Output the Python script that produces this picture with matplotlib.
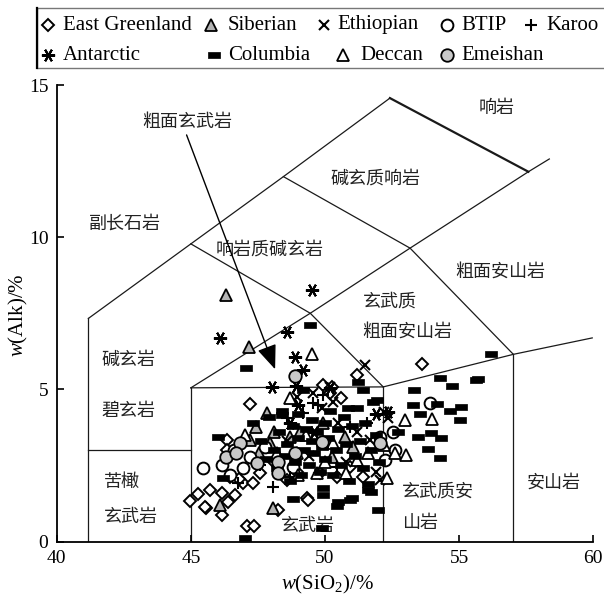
import matplotlib
matplotlib.use('Agg')
import matplotlib.pyplot as plt
from matplotlib.patches import Rectangle
import numpy as np

plt.rcParams['font.family'] = ['Liberation Serif', 'Noto Sans CJK SC']
plt.rcParams['mathtext.fontset'] = 'custom'
plt.rcParams['mathtext.rm'] = 'Liberation Serif'
plt.rcParams['mathtext.it'] = 'Liberation Serif:italic'

# ---- data (SiO2, Alk) ----
east_greenland = [(44.95, 1.33), (45.28, 1.55), (45.57, 1.09), (45.72, 1.69), (46.15, 1.58),
                  (46.15, 0.87), (46.40, 1.31), (46.65, 1.53), (46.96, 1.91), (47.33, 1.91),
                  (47.08, 0.52), (47.36, 0.52), (46.34, 3.34), (46.46, 2.13), (46.81, 2.04),
                  (48.26, 1.04), (49.32, 1.42), (48.95, 2.29), (48.57, 2.02), (51.18, 5.47),
                  (49.94, 5.14), (50.25, 5.09), (50.19, 4.87), (51.43, 2.13), (50.44, 2.13),
                  (49.82, 2.24), (50.93, 2.46), (47.58, 2.24), (46.34, 3.01), (53.62, 5.82),
                  (47.21, 4.52), (45.53, 1.14), (49.37, 1.36), (48.1, 2.6), (50.6, 4.7)]
siberian = [(46.31, 8.10), (47.18, 6.40), (47.85, 4.23), (47.43, 3.77), (48.10, 3.61),
            (46.09, 1.20), (48.05, 1.11), (47.55, 2.90), (47.95, 3.23), (49.07, 3.61),
            (49.94, 3.88), (50.75, 3.45), (51.06, 3.12), (47.20, 3.34), (48.70, 3.45),
            (50.25, 2.79)]
ethiopian = [(51.49, 5.80), (50.19, 5.09), (49.57, 4.87), (48.95, 4.76), (52.18, 4.27),
             (52.36, 4.05), (51.68, 3.34), (52.05, 2.02), (51.90, 2.30), (50.50, 3.90),
             (49.90, 4.40), (50.30, 4.60), (48.60, 3.30), (49.40, 2.80), (50.80, 2.60),
             (51.20, 3.60)]
btip = [(45.47, 2.41), (46.15, 2.52), (46.46, 2.19), (46.96, 2.41), (46.59, 3.01),
        (47.21, 2.79), (52.55, 3.61), (52.61, 3.01), (52.24, 2.68), (48.82, 2.46),
        (53.92, 4.55), (47.77, 3.12), (52.05, 3.45)]
karoo = [(48.08, 1.80), (48.57, 4.05), (49.57, 4.54), (49.94, 4.81), (49.19, 4.21),
         (49.75, 4.49), (46.77, 1.91), (47.58, 2.51), (48.70, 2.13), (50.44, 2.46),
         (50.93, 3.77), (51.55, 3.88)]
antarctic = [(46.09, 6.68), (48.57, 6.89), (48.88, 6.07), (48.01, 5.09), (49.19, 5.64),
             (49.50, 8.27), (48.92, 5.11), (52.36, 4.27), (50.19, 5.03), (49.00, 4.50),
             (48.70, 3.90), (51.90, 4.20), (49.60, 3.60)]
columbia = [(49.44, 7.10), (47.05, 5.69), (49.19, 4.98), (51.24, 5.25), (51.43, 4.98),
            (51.93, 4.65), (50.87, 4.38), (56.20, 6.16), (55.70, 5.34),
            (53.32, 4.98), (54.29, 5.37), (54.73, 5.11), (55.63, 5.31), (53.28, 4.49),
            (53.54, 4.19), (54.17, 4.52), (54.66, 4.29), (55.03, 3.99), (53.47, 3.43),
            (53.95, 3.57), (54.32, 3.40), (53.84, 3.04), (54.29, 2.74), (52.72, 3.60),
            (55.07, 4.42),
            (47.3, 3.9), (47.6, 3.3), (47.8, 2.7), (47.9, 4.1), (48.1, 3.0), (48.2, 2.4),
            (48.3, 3.6), (48.4, 4.3), (48.5, 2.8), (48.6, 3.2), (48.7, 2.0), (48.8, 3.8),
            (48.9, 2.6), (49.0, 3.4), (49.0, 4.2), (49.1, 2.2), (49.2, 3.0), (49.3, 3.7),
            (49.4, 2.5), (49.5, 3.3), (49.5, 4.0), (49.6, 2.9), (49.7, 3.6), (49.8, 2.3),
            (49.9, 3.1), (50.0, 3.9), (50.0, 2.7), (50.1, 3.4), (50.2, 4.3), (50.3, 2.2),
            (50.4, 3.0), (50.5, 3.7), (50.6, 2.5), (50.7, 4.1), (50.8, 3.2), (50.9, 2.0),
            (51.0, 3.8), (51.1, 2.8), (51.2, 4.4), (51.3, 3.3), (51.4, 2.4), (51.5, 3.9),
            (51.6, 1.9), (51.7, 3.0), (51.8, 4.6), (51.9, 3.5), (52.0, 2.6),
            (47.02, 0.10), (49.88, 0.43), (51.99, 1.04), (50.43, 1.17), (50.93, 1.36),
            (48.80, 1.41), (49.93, 1.53), (51.71, 1.64), (50.50, 1.31), (51.00, 1.42),
            (51.62, 1.69), (49.94, 1.75), (46.21, 2.08), (46.03, 3.45), (48.39, 4.16)]
deccan = [(48.70, 4.70), (52.98, 4.00), (52.18, 3.17), (52.61, 2.90), (52.30, 2.08),
          (50.80, 2.24), (49.69, 2.24), (48.95, 2.90), (48.20, 2.90), (51.18, 2.68),
          (50.31, 3.23), (49.50, 6.15), (54.00, 4.02), (53.00, 2.85), (47.00, 3.50),
          (49.30, 3.50), (50.00, 2.60), (51.60, 2.90), (49.00, 2.20)]
emeishan = [(48.88, 5.44), (46.83, 3.23), (46.31, 2.79), (47.45, 2.57), (48.26, 2.62),
            (48.26, 2.26), (49.88, 3.28), (52.05, 3.23), (46.68, 2.90), (48.88, 2.90)]

# TAS field boundaries as drawn in the figure
tas_lines = [
    [(41.18, 0), (41.18, 7.33)],
    [(41.18, 3.0), (45.0, 3.0)],
    [(45.0, 0), (45.0, 5.05)],
    [(52.17, 0), (52.17, 5.08)],
    [(57.02, 0), (57.02, 6.15)],
    [(45.0, 5.05), (52.17, 5.08)],
    [(41.18, 7.33), (45.0, 9.78), (48.45, 11.99), (52.42, 14.57)],
    [(45.0, 9.78), (49.45, 7.5), (52.17, 5.08)],
    [(45.0, 5.05), (49.45, 7.5), (53.17, 9.64), (57.58, 12.15), (58.36, 12.57)],
    [(48.45, 11.99), (53.17, 9.64), (57.02, 6.15)],
    [(52.17, 5.08), (57.02, 6.15), (59.96, 6.69)],
]
thick_line = [(52.42, 14.57), (57.58, 12.15)]

field_labels = [
    ('粗面玄武岩', 44.88, 13.80, 'center'),
    ('响岩', 56.40, 14.24, 'center'),
    ('碱玄质响岩', 51.89, 11.94, 'center'),
    ('副长石岩', 42.56, 10.43, 'center'),
    ('响岩质碱玄岩', 47.95, 9.58, 'center'),
    ('粗面安山岩', 56.55, 8.87, 'center'),
    ('玄武质', 51.43, 7.88, 'left'),
    ('粗面安山岩', 51.40, 6.90, 'left'),
    ('碱玄岩', 41.65, 5.96, 'left'),
    ('碧玄岩', 41.65, 4.29, 'left'),
    ('苦橄', 41.74, 1.96, 'left'),
    ('玄武岩', 41.74, 0.80, 'left'),
    ('玄武岩', 49.35, 0.52, 'center'),
    ('玄武质安', 52.87, 1.63, 'left'),
    ('山岩', 52.86, 0.62, 'left'),
    ('安山岩', 58.52, 1.92, 'center'),
]
arrow_start = (44.84, 13.36)
arrow_tip = (48.14, 5.66)

rect = [(-1, -0.55), (1, -0.55), (1, 0.55), (-1, 0.55), (-1, -0.55)]
grey_tri = '#b3b3b3'
grey_circ = '#c8c8c8'
styles = {
    'East Greenland': dict(marker='D', ms=6.5, mfc='white', mec='black', mew=1.4),
    'Siberian': dict(marker='^', ms=9, mfc=grey_tri, mec='black', mew=1.3),
    'Ethiopian': dict(marker='x', ms=7.5, mec='black', mew=1.5),
    'BTIP': dict(marker='o', ms=8.5, mfc='white', mec='black', mew=1.4),
    'Karoo': dict(marker='+', ms=9, mec='black', mew=1.5),
    'Antarctic': dict(marker=(6, 2, 90), ms=9.5, mec='black', mew=1.5),
    'Columbia': dict(marker=rect, ms=8, mfc='black', mec='black', mew=0.5),
    'Deccan': dict(marker='^', ms=9, mfc='white', mec='black', mew=1.3),
    'Emeishan': dict(marker='o', ms=9, mfc=grey_circ, mec='black', mew=1.3),
}
series = [('East Greenland', east_greenland), ('Siberian', siberian), ('Ethiopian', ethiopian),
          ('BTIP', btip), ('Karoo', karoo), ('Antarctic', antarctic), ('Deccan', deccan),
          ('Columbia', columbia), ('Emeishan', emeishan)]

fig = plt.figure(figsize=(6.04, 6.0), dpi=100)
ax = fig.add_axes([0.0939, 0.0975, 0.8884, 0.7608])

for line in tas_lines:
    xs, ys = zip(*line)
    ax.plot(xs, ys, color='#1a1a1a', lw=0.9, zorder=1)
xs, ys = zip(*thick_line)
ax.plot(xs, ys, color='#1a1a1a', lw=1.6, zorder=1)

for i, (name, pts) in enumerate(series):
    pts = np.array(pts)
    ax.plot(pts[:, 0], pts[:, 1], ls='none', zorder=3 + i, clip_on=False, **styles[name])

for txt, x, y, ha in field_labels:
    ax.text(x, y, txt, ha=ha, va='center', fontsize=13, family='Noto Sans CJK SC',
            color='#222222', zorder=2)

ax.annotate('', xy=arrow_tip, xytext=arrow_start, zorder=20,
            arrowprops=dict(arrowstyle='-|>,head_length=1.5,head_width=0.6',
                            color='black', lw=1.0, shrinkA=0, shrinkB=0))

ax.set_xlim(40, 60)
ax.set_ylim(0, 15)
ax.set_xticks([40, 45, 50, 55, 60])
ax.set_yticks([0, 5, 10, 15])
ax.spines['top'].set_visible(False)
ax.spines['right'].set_visible(False)
for s in ('left', 'bottom'):
    ax.spines[s].set_linewidth(1.3)
ax.tick_params(direction='in', length=5, width=1.2, labelsize=14, pad=6)
ax.set_xlabel('$w$(SiO$_2$)/%', fontsize=15)
ax.set_ylabel('$w$(Alk)/%', fontsize=15)
ax.xaxis.set_label_coords(0.504, -0.068)
ax.yaxis.set_label_coords(-0.05, 0.496)

# legend box drawn in pixel coordinates across the top
lax = fig.add_axes([0, 0, 1, 1], zorder=-1)
lax.set_xlim(0, 604)
lax.set_ylim(600, 0)
lax.axis('off')
lax.add_patch(Rectangle((37, 8), 600, 60, fill=False, edgecolor='#777777', lw=1.0))
lax.plot([37, 37], [8, 68], color='black', lw=1.6)
legend_items = [('East Greenland', 48, 63, 25), ('Siberian', 211, 228, 25),
                ('Ethiopian', 324, 337, 25), ('BTIP', 447, 461, 25), ('Karoo', 531, 546, 25),
                ('Antarctic', 48, 63, 55), ('Columbia', 214, 228, 55),
                ('Deccan', 343, 360, 55), ('Emeishan', 447, 461, 55)]
for name, mx, tx, ty in legend_items:
    st = dict(styles[name])
    lax.plot([mx], [ty], ls='none', **st)
    lax.text(tx, ty, name, va='center', ha='left', fontsize=15)

fig.savefig('out.png', dpi=100)
